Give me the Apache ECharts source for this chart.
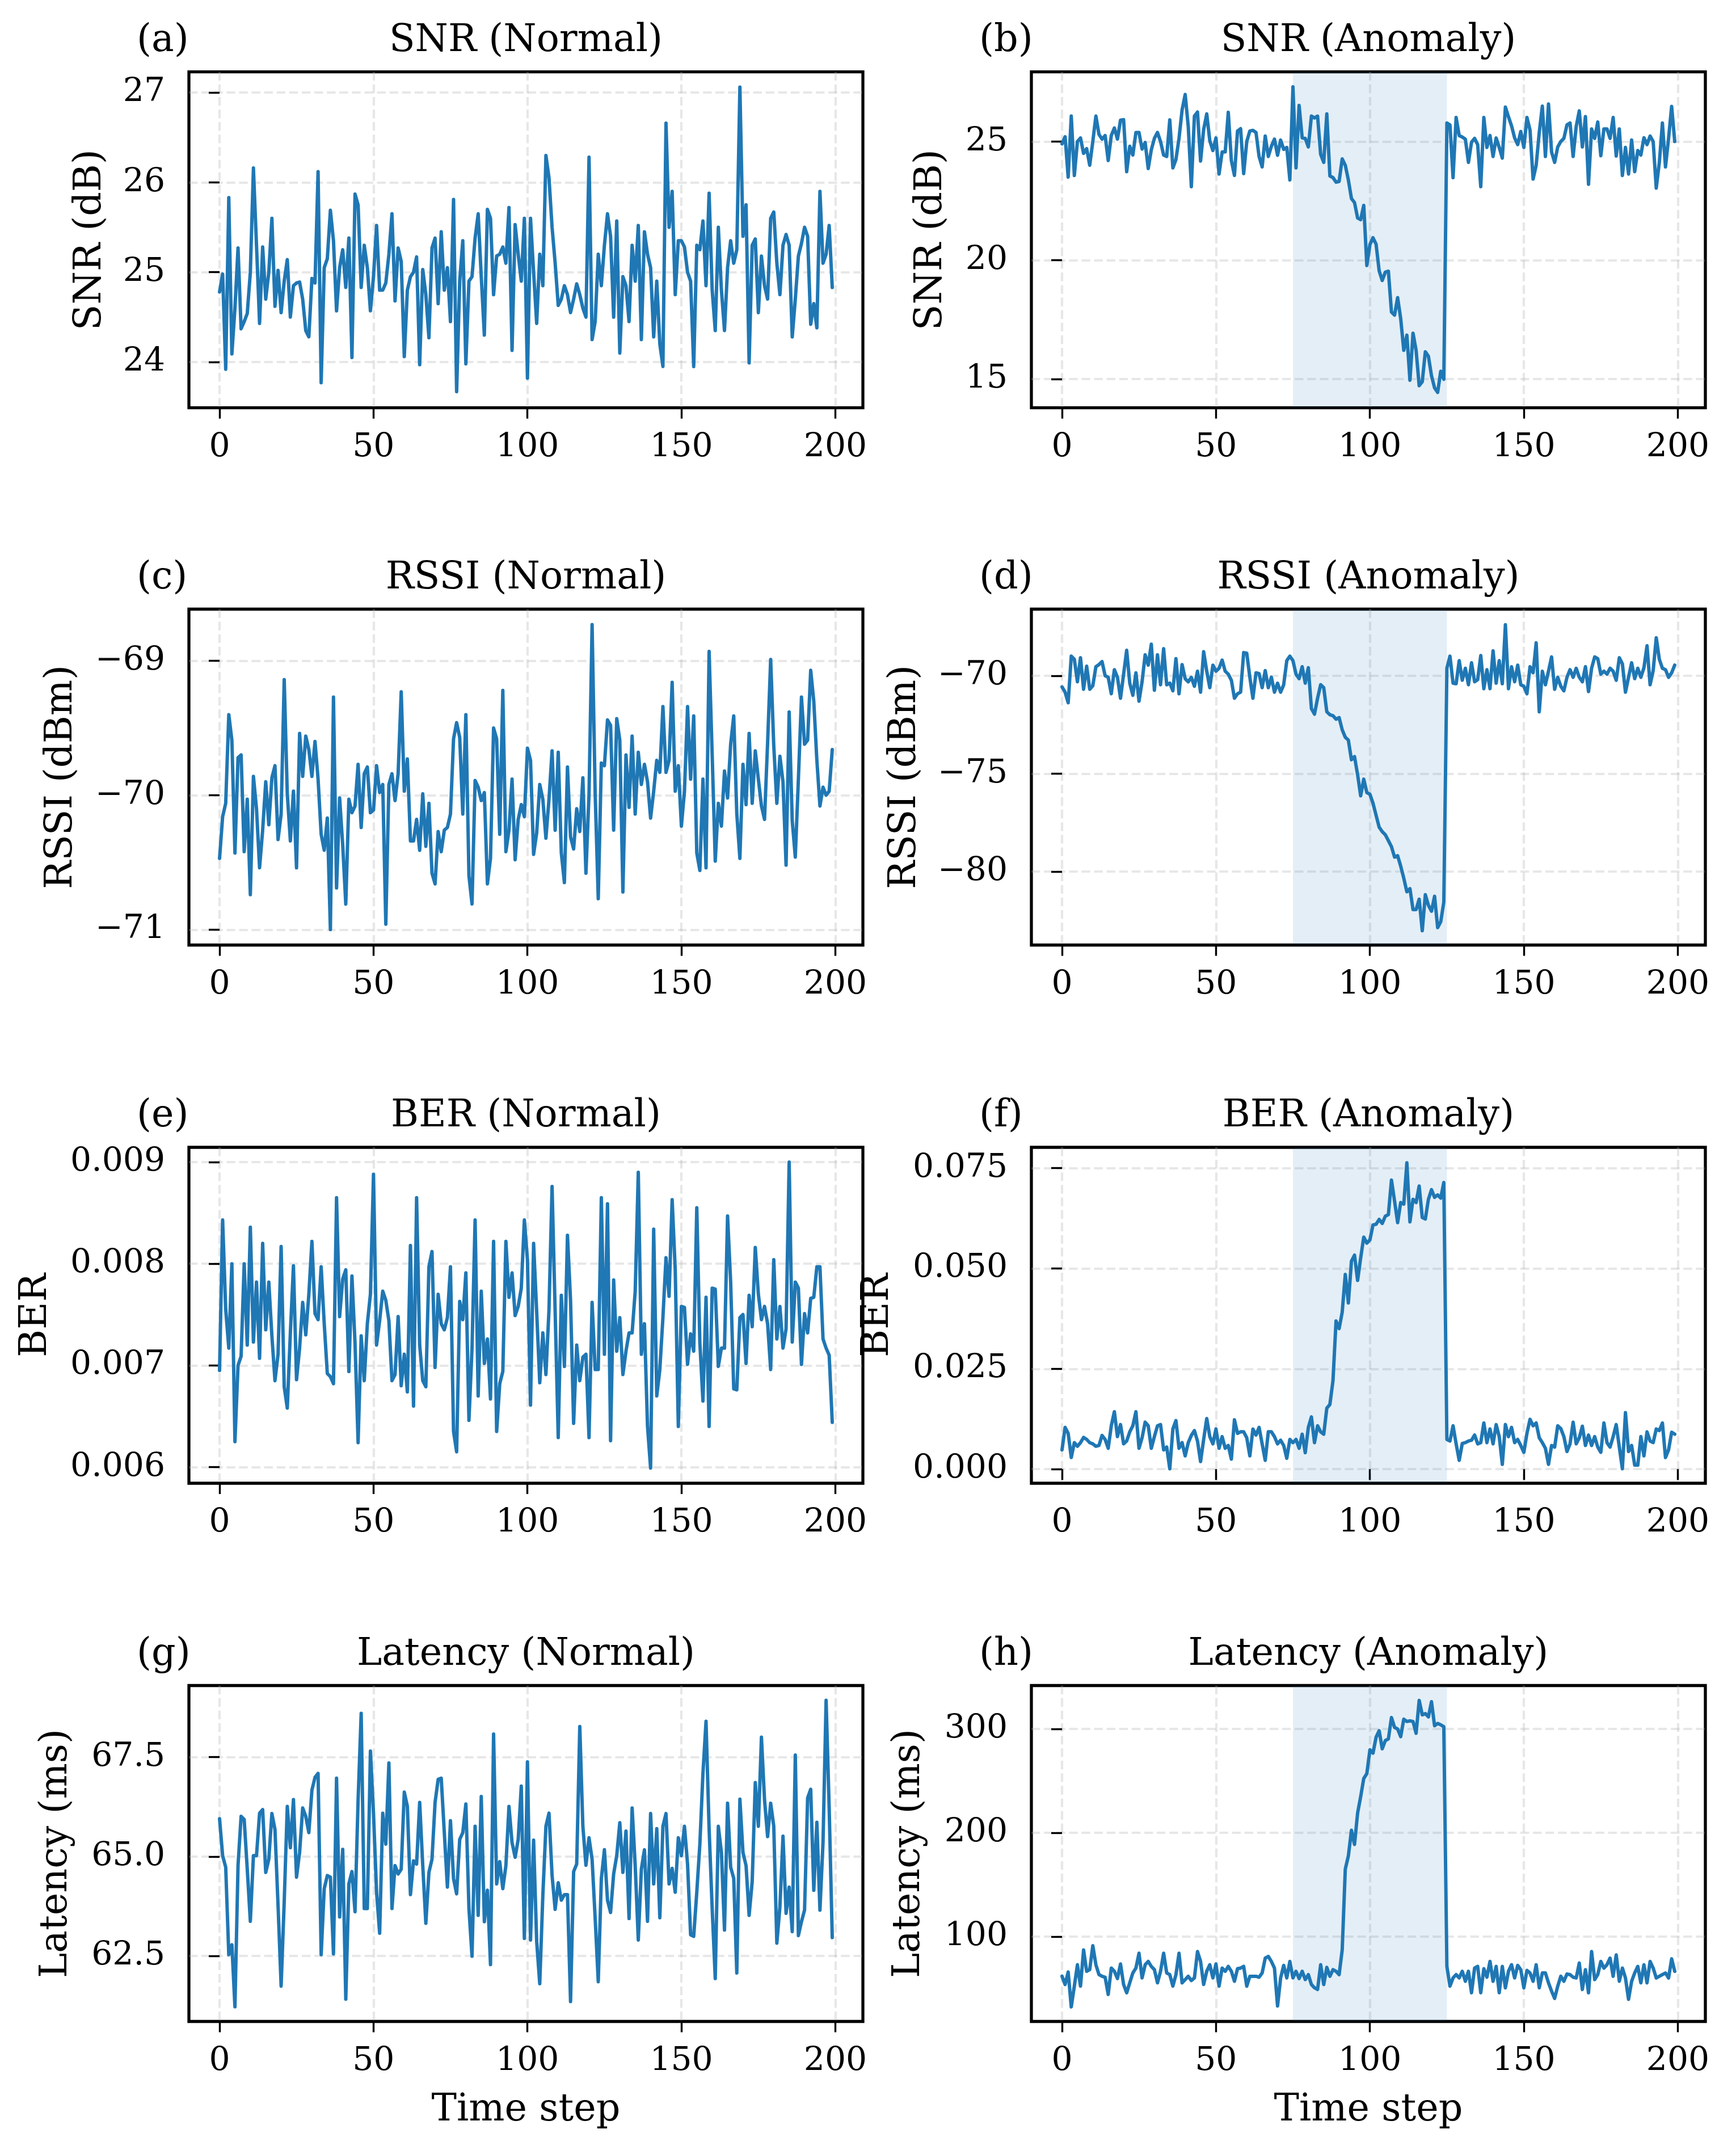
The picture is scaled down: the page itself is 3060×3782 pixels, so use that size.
<!DOCTYPE html>
<html><head><meta charset="utf-8">
<script src="https://cdn.jsdelivr.net/npm/echarts@6/dist/echarts.min.js"></script>
<style>html,body{margin:0;padding:0;background:#fff}#chart{width:3060px;height:3782px}</style>
</head><body><div id="chart"></div>
<script>
// ---------------- data ----------------
const timeSteps = Array.from({length: 200}, (_, i) => i);

const snrNormal = [
24.78,24.98,23.92,25.83,24.09,24.6,25.27,24.37,24.45,24.54,
25.0,26.16,25.3,24.43,25.28,24.7,25.0,25.6,24.62,25.02,
24.55,24.9,25.14,24.5,24.85,24.88,24.89,24.7,24.35,24.28,
24.93,24.88,26.12,23.77,25.05,25.15,25.69,25.35,24.57,25.05,
25.25,24.83,25.38,24.05,25.87,25.75,24.83,25.3,25.05,24.57,
24.95,25.52,24.8,24.8,24.88,25.2,25.65,24.68,25.27,25.12,
24.06,24.8,24.95,25.0,25.17,23.97,25.03,24.75,24.27,25.27,
25.38,24.65,25.45,24.8,25.05,24.45,25.81,23.67,24.9,25.35,
23.98,24.9,24.95,25.38,25.65,24.95,24.3,25.7,25.6,24.75,
25.18,25.2,25.28,25.1,25.72,24.13,25.53,25.2,24.9,25.6,
23.82,25.6,25.0,24.43,25.2,24.85,26.3,26.05,25.5,25.1,
24.63,24.7,24.85,24.75,24.55,24.7,24.87,24.75,24.6,24.5,
26.28,24.25,24.45,25.2,24.85,25.3,25.65,25.4,24.5,25.57,
24.1,24.95,24.85,24.45,25.3,24.9,25.52,24.25,25.45,25.2,
25.05,24.28,24.9,24.2,23.95,26.66,25.5,25.9,24.75,25.35,
25.35,25.28,25.0,24.9,23.95,25.3,25.25,25.57,24.85,25.88,
24.8,24.35,25.5,24.8,24.35,25.05,25.35,25.1,25.25,27.06,
25.4,25.75,23.99,25.3,25.37,24.55,25.18,24.85,24.7,25.6,
25.67,25.1,24.75,25.3,25.42,25.3,24.28,24.7,25.18,25.32,
25.5,25.4,24.42,24.65,24.38,25.9,25.1,25.2,25.52,24.83];

const snrAnomaly = [
24.9,25.2,23.5,26.07,23.57,25.0,25.15,24.5,24.7,24.0,
25.0,26.07,25.3,25.1,25.25,24.2,25.25,25.57,25.1,25.9,
25.92,23.73,24.8,24.43,25.38,25.38,24.68,24.96,23.86,24.65,
25.13,25.38,25.0,24.43,24.37,25.91,23.89,24.24,25.13,26.33,
26.98,25.63,23.1,26.07,26.24,24.18,25.5,26.16,25.03,24.62,
25.15,23.63,24.56,24.56,26.23,24.2,23.57,25.44,25.54,23.65,
25.0,25.44,25.47,25.38,24.37,23.93,25.23,24.37,24.8,25.1,
24.42,25.06,24.67,24.75,23.38,27.3,23.89,26.52,25.15,25.13,
24.77,26.07,25.99,26.07,24.46,24.12,26.16,23.55,23.48,23.29,
23.32,24.27,24.0,23.38,22.6,22.43,21.78,21.71,22.31,19.78,
20.66,20.95,20.68,19.56,19.15,19.5,19.54,17.82,17.69,18.43,
17.54,16.21,16.85,14.95,16.93,16.21,14.72,14.89,16.15,15.96,
15.14,14.63,14.44,15.33,14.99,25.78,25.7,23.48,26.01,25.25,
25.19,25.1,24.12,24.97,25.13,24.87,23.1,26.01,24.75,25.25,
24.37,25.15,24.75,24.3,26.45,26.04,25.66,25.15,24.87,25.42,
24.75,26.01,25.48,23.42,24.0,25.38,26.49,24.37,26.58,24.56,
24.12,24.77,25.0,25.13,25.7,25.78,24.37,25.63,26.29,24.77,
26.05,23.2,25.53,25.13,25.82,24.4,25.53,25.53,25.13,26.01,
24.39,25.53,23.57,24.75,23.63,25.06,23.73,24.62,24.43,25.16,
24.87,25.23,25.0,23.04,24.12,25.78,23.93,25.13,26.48,25.0];

const rssiNormal = [
-70.47,-70.16,-70.06,-69.40,-69.59,-70.43,-69.72,-69.70,-70.42,-70.03,
-70.74,-69.86,-70.10,-70.54,-70.26,-69.90,-70.22,-69.87,-69.78,-70.33,
-70.14,-69.14,-69.99,-70.34,-69.97,-70.54,-69.54,-69.86,-69.56,-69.66,
-69.86,-69.60,-69.88,-70.29,-70.41,-70.17,-71.0,-69.27,-70.69,-70.02,
-70.37,-70.81,-70.03,-70.13,-70.08,-69.77,-70.24,-69.84,-69.79,-70.13,
-70.11,-69.78,-69.98,-69.92,-70.96,-69.92,-69.84,-70.04,-69.84,-69.23,
-69.97,-69.73,-70.34,-70.34,-70.18,-70.41,-69.99,-70.38,-70.06,-70.58,
-70.66,-70.27,-70.42,-70.26,-70.24,-70.14,-69.58,-69.46,-69.57,-70.14,
-69.40,-70.60,-70.81,-69.89,-69.94,-70.04,-69.98,-70.66,-70.47,-69.50,
-69.58,-70.29,-69.22,-70.42,-70.26,-69.88,-70.48,-70.18,-70.07,-70.16,
-69.65,-69.74,-70.44,-70.28,-69.92,-70.03,-70.32,-70.03,-69.67,-70.26,
-69.68,-70.43,-70.65,-69.79,-70.31,-70.40,-70.10,-70.27,-69.87,-70.58,
-69.99,-68.73,-69.99,-70.77,-69.76,-69.78,-69.44,-69.48,-70.26,-69.43,
-69.59,-70.72,-69.70,-70.09,-69.56,-70.14,-69.68,-69.92,-69.77,-69.90,
-70.17,-69.97,-69.74,-69.83,-69.34,-69.83,-69.74,-69.16,-69.97,-69.78,
-70.23,-69.97,-69.34,-69.88,-69.41,-70.43,-70.56,-69.88,-70.54,-68.93,
-69.70,-70.49,-70.06,-70.23,-69.82,-70.02,-69.62,-69.41,-70.14,-70.47,
-69.77,-70.07,-69.54,-70.06,-69.67,-69.88,-70.08,-70.18,-69.61,-68.99,
-69.63,-70.06,-69.71,-69.90,-70.52,-69.38,-70.19,-70.46,-69.88,-69.27,
-69.62,-69.59,-69.07,-69.30,-69.74,-70.08,-69.94,-70.00,-69.97,-69.66];

const rssiAnomaly = [
-70.57,-70.84,-71.38,-69.0,-69.16,-70.31,-69.08,-70.69,-69.51,-70.69,
-70.51,-69.54,-69.43,-69.28,-70.0,-70.08,-70.92,-69.69,-70.08,-71.15,
-69.92,-68.70,-70.38,-71.0,-69.85,-71.30,-70.31,-68.93,-69.46,-68.39,
-70.74,-68.93,-70.46,-68.62,-70.46,-70.38,-70.77,-69.13,-70.92,-69.43,
-70.15,-70.31,-70.08,-70.54,-69.77,-70.84,-68.77,-69.77,-70.61,-69.46,
-69.77,-69.62,-69.20,-69.77,-69.92,-70.23,-71.15,-70.92,-70.84,-68.82,
-68.85,-70.08,-71.15,-69.85,-69.89,-70.61,-69.74,-70.61,-70.08,-70.84,
-70.38,-70.84,-70.46,-69.23,-69.0,-69.23,-69.92,-70.15,-69.54,-70.38,
-69.59,-71.68,-71.96,-71.15,-70.46,-70.61,-71.84,-71.99,-72.04,-72.22,
-72.14,-72.76,-73.14,-73.29,-74.29,-74.13,-75.05,-76.13,-75.28,-75.97,
-76.05,-76.51,-77.12,-77.73,-77.96,-78.12,-78.42,-78.73,-79.26,-79.19,
-79.72,-80.34,-81.03,-80.87,-81.94,-81.94,-81.41,-83.02,-81.18,-81.72,
-82.02,-81.26,-82.86,-82.56,-81.56,-69.62,-69.0,-70.38,-70.41,-69.23,
-70.23,-69.62,-70.46,-69.34,-70.31,-70.20,-68.97,-70.66,-69.69,-70.66,
-68.73,-70.38,-69.23,-70.41,-67.40,-70.66,-69.54,-70.31,-69.46,-70.46,
-70.54,-70.92,-69.54,-69.85,-68.32,-71.84,-69.77,-70.46,-69.77,-69.04,
-70.69,-70.08,-70.54,-70.77,-70.08,-69.69,-70.08,-69.62,-70.08,-70.31,
-69.54,-70.81,-69.62,-69.04,-69.13,-69.92,-69.77,-69.92,-69.62,-69.77,
-70.23,-69.08,-69.39,-70.84,-70.08,-69.34,-70.15,-69.62,-70.08,-69.59,
-68.47,-70.46,-69.74,-68.06,-69.16,-69.62,-69.69,-70.08,-69.85,-69.46];

const berNormal = [
0.00695,0.00843,0.00755,0.00717,0.00800,0.00625,0.00700,0.00709,0.00800,0.00720,
0.00836,0.00723,0.00782,0.00707,0.00820,0.00735,0.00782,0.00729,0.00685,0.00711,
0.00817,0.00679,0.00658,0.00732,0.00798,0.00686,0.00717,0.00762,0.00730,0.00770,
0.00822,0.00751,0.00745,0.00797,0.00741,0.00692,0.00689,0.00682,0.00865,0.00748,
0.00785,0.00794,0.00694,0.00788,0.00722,0.00624,0.00729,0.00685,0.00741,0.00770,
0.00888,0.00720,0.00744,0.00773,0.00764,0.00744,0.00685,0.00691,0.00748,0.00680,
0.00711,0.00674,0.00818,0.00660,0.00865,0.00720,0.00685,0.00679,0.00797,0.00812,
0.00698,0.00770,0.00741,0.00735,0.00747,0.00797,0.00635,0.00615,0.00763,0.00745,
0.00791,0.00646,0.00717,0.00843,0.00670,0.00773,0.00702,0.00726,0.00667,0.00822,
0.00635,0.00682,0.00694,0.00822,0.00767,0.00791,0.00749,0.00758,0.00776,0.00843,
0.00804,0.00661,0.00820,0.00753,0.00683,0.00732,0.00691,0.00755,0.00876,0.00753,
0.00629,0.00769,0.00699,0.00828,0.00764,0.00643,0.00720,0.00685,0.00708,0.00711,
0.00629,0.00762,0.00696,0.00696,0.00865,0.00711,0.00859,0.00626,0.00784,0.00714,
0.00747,0.00691,0.00714,0.00732,0.00732,0.00773,0.00890,0.00711,0.00741,0.00640,
0.00599,0.00834,0.00670,0.00696,0.00747,0.00806,0.00768,0.00863,0.00794,0.00640,
0.00758,0.00757,0.00701,0.00731,0.00714,0.00855,0.00722,0.00665,0.00767,0.00640,
0.00776,0.00775,0.00699,0.00717,0.00717,0.00847,0.00782,0.00677,0.00676,0.00747,
0.00750,0.00702,0.00769,0.00738,0.00816,0.00770,0.00745,0.00758,0.00741,0.00696,
0.00804,0.00726,0.00758,0.00717,0.00736,0.00900,0.00723,0.00782,0.00776,0.00701,
0.00751,0.00732,0.00766,0.00767,0.00797,0.00797,0.00726,0.00717,0.00710,0.00644];

const berAnomaly = [
0.0048,0.0104,0.0089,0.0029,0.0066,0.0057,0.0066,0.0079,0.0074,0.0066,
0.0063,0.0057,0.0059,0.0084,0.0074,0.0052,0.0108,0.0143,0.0081,0.0111,
0.0063,0.0070,0.0093,0.0108,0.0143,0.0052,0.0078,0.0117,0.0108,0.0052,
0.0081,0.0108,0.0111,0.0048,0.0055,0.0001,0.0100,0.0121,0.0052,0.0066,
0.0033,0.0066,0.0084,0.0096,0.0070,0.0019,0.0074,0.0126,0.0081,0.0063,
0.0100,0.0052,0.0081,0.0052,0.0059,0.0025,0.0123,0.0089,0.0093,0.0093,
0.0078,0.0033,0.0100,0.0085,0.0104,0.0063,0.0022,0.0093,0.0093,0.0081,
0.0063,0.0072,0.0059,0.0027,0.0074,0.0066,0.0074,0.0052,0.0087,0.0041,
0.0104,0.0130,0.0066,0.0108,0.0093,0.0087,0.0152,0.0161,0.0220,0.0369,
0.0350,0.0391,0.0485,0.0414,0.0518,0.0533,0.0470,0.0526,0.0578,0.0563,
0.0571,0.0608,0.0610,0.0622,0.0612,0.0630,0.0634,0.0720,0.0668,0.0614,
0.0664,0.0660,0.0763,0.0616,0.0672,0.0664,0.0705,0.0627,0.0623,0.0672,
0.0696,0.0677,0.0683,0.0675,0.0714,0.0074,0.0070,0.0108,0.0063,0.0022,
0.0064,0.0066,0.0070,0.0072,0.0085,0.0063,0.0066,0.0115,0.0066,0.0100,
0.0063,0.0111,0.0081,0.0012,0.0111,0.0081,0.0104,0.0066,0.0074,0.0059,
0.0042,0.0089,0.0124,0.0108,0.0115,0.0078,0.0066,0.0052,0.0012,0.0059,
0.0055,0.0108,0.0101,0.0081,0.0044,0.0063,0.0117,0.0063,0.0078,0.0107,
0.0059,0.0085,0.0059,0.0081,0.0055,0.0042,0.0115,0.0066,0.0055,0.0081,
0.0111,0.0055,0.0001,0.0141,0.0044,0.0059,0.0010,0.0010,0.0081,0.0033,
0.0093,0.0070,0.0066,0.0100,0.0096,0.0115,0.0029,0.0048,0.0092,0.0087];

const latencyNormal = [
65.95,65.02,64.73,62.53,62.78,61.22,64.77,66.01,65.93,64.68,
63.37,65.02,65.02,66.09,66.18,64.6,64.93,66.08,65.68,63.77,
61.74,63.86,66.26,65.22,66.43,64.48,65.1,66.22,66.01,65.6,
66.67,66.99,67.09,62.53,64.19,64.52,64.48,62.55,66.97,63.48,
65.18,61.41,64.31,64.62,63.61,66.43,68.6,63.69,63.69,67.65,
66.09,64.1,63.07,66.09,65.31,67.35,63.69,64.77,64.56,64.68,
66.62,66.26,64.04,64.89,64.81,66.36,64.77,63.32,64.6,64.93,
66.36,66.94,66.97,65.6,64.23,65.9,64.44,64.06,65.43,65.6,
66.32,63.69,62.49,65.76,63.52,66.51,63.36,64.15,62.28,68.08,
64.31,64.87,64.19,64.77,66.26,65.35,64.98,65.43,66.77,62.94,
67.38,62.9,65.41,62.86,61.8,64.02,65.76,66.09,64.52,63.67,
64.34,63.9,64.04,64.04,61.35,64.62,64.81,68.27,65.76,64.78,
65.47,64.93,63.44,61.85,64.44,65.17,63.9,63.59,64.56,65.02,
65.85,64.6,65.64,63.44,66.22,64.77,62.9,64.68,65.17,63.37,
66.08,64.31,65.7,63.46,65.76,66.08,64.31,64.7,64.1,65.47,
65.02,65.76,64.81,63.03,62.99,64.1,65.31,67.09,68.4,65.7,
63.69,61.93,65.76,65.1,63.15,66.34,64.73,64.45,62.07,66.44,
65.1,64.77,63.52,64.37,66.86,65.76,68.0,66.43,65.5,66.34,
65.76,62.82,63.73,65.51,63.57,64.23,63.11,67.55,63.01,63.36,
63.65,66.47,66.69,64.15,65.86,63.65,65.35,68.93,66.22,62.96];

const latencyAnomaly = [
61.9,54,66,32.4,52.4,73,52.4,87.3,66.7,68.3,
91.4,73,63.5,61.9,61,44.4,69.8,66.7,59.7,73.7,
54,46,55.6,65.1,69.8,84.1,60.3,73,76.2,71.4,
68.3,55.6,66.7,84.1,65.1,63.5,52.4,63.5,84.1,55.6,
58.7,61.9,57.8,60.3,85.7,76.2,54,66.7,73,60.3,
73.7,52.4,69.8,66.7,71.4,66.7,57.1,69.2,69.8,71.4,
52.4,61.9,61.9,61.9,61,65.1,79.4,81,76.2,69.8,
33.3,60.3,72.4,60.3,76.2,60.3,66.7,59.7,66.7,58.7,
63.5,54,50.8,49.2,73,54,70.5,61.9,68.3,66.7,
63.5,87.3,165.1,177.8,202.5,188.9,219,234.9,252.4,257.1,
280,276.8,292.1,298.4,281,288.9,290.5,311.1,301.6,300,
292.7,309.5,307.3,307.9,307.3,295.9,327.6,313.7,314.9,311.7,
326.3,303.2,305.4,304.1,302.2,71.4,52.4,60.3,63.5,60.3,
66.7,57.1,66.7,46,69.8,71.4,46,69.2,61,76.2,
57.1,71.4,46,71.4,50.8,66.7,73,60.3,72.4,68.3,
50.8,67.6,65.1,57.1,73,50.8,65.1,65.1,55.6,47.6,
40.6,52.4,61.9,57.1,64.1,63.5,61,60.3,74.6,49.2,
68.3,46,85.7,58.7,63.5,76.2,69.8,73,79.4,61.9,
82.5,57.1,69.8,60.3,39.7,57.1,65.1,71.4,55.6,73,
55.6,76.2,69.8,60.3,61.9,63.5,65.1,60.3,78.7,66.7];

const xTickValues = [0, 50, 100, 150, 200];
const anomalyWindow = [75, 125];

const panelTitles = ['SNR (Normal)','SNR (Anomaly)','RSSI (Normal)','RSSI (Anomaly)','BER (Normal)','BER (Anomaly)','Latency (Normal)','Latency (Anomaly)'];
const panelLetters = ['(a)','(b)','(c)','(d)','(e)','(f)','(g)','(h)'];
const yAxisNames = ['SNR (dB)','SNR (dB)','RSSI (dBm)','RSSI (dBm)','BER','BER','Latency (ms)','Latency (ms)'];
const yTickValues = [
  [24,25,26,27],[15,20,25],[-71,-70,-69],[-80,-75,-70],
  [0.006,0.007,0.008,0.009],[0,0.025,0.05,0.075],[62.5,65,67.5],[100,200,300]];
const yTickDecimals = [0,0,0,0,3,3,1,0];
const yRanges = [[23.49,27.23],[13.79,27.93],[-71.115,-68.615],[-83.75,-66.60],
  [0.005841,0.009145],[-0.00351,0.08015],[60.85,69.30],[18.4,341.9]];
const seriesValues = [snrNormal, snrAnomaly, rssiNormal, rssiAnomaly, berNormal, berAnomaly, latencyNormal, latencyAnomaly];
const isAnomaly = [false,true,false,true,false,true,false,true];

// ---------------- layout ----------------
const FONT = '"DejaVu Serif", serif';
const colLeft = [333, 1818];
const rowTop = [126.7, 1073.5, 2022, 2970.5];
const gridW = 1188, gridH = 592;
const yNameGaps = [140,143,191,189,236,237,200,182];
const LINE = '#1f77b4';

const grids = [], xAxes = [], yAxes = [], series = [], graphics = [];
const fmt = (v, d) => Number(v).toFixed(d).replace('-', '\u2212');

for (let p = 0; p < 8; p++) {
  const col = p % 2, row = Math.floor(p / 2);
  const left = colLeft[col], top = rowTop[row];
  grids.push({left: left, top: top, width: gridW, height: gridH, show: true,
    borderColor: '#000', borderWidth: 5.3, backgroundColor: 'transparent', containLabel: false});
  const splitLine = {show: true, lineStyle: {color: 'rgba(176,176,176,0.3)', width: 4.2, type: [15.4, 6.7]}};
  xAxes.push({
    type: 'value', gridIndex: p, min: -9.95, max: 208.95,
    axisLine: {show: false},
    axisTick: {show: true, length: 19, customValues: xTickValues, lineStyle: {color: '#000', width: 3.4}},
    axisLabel: {show: true, customValues: xTickValues, margin: 41, color: '#000', fontFamily: FONT, fontSize: 58.3,
      formatter: v => fmt(v, 0)},
    splitLine: splitLine,
    name: row === 3 ? 'Time step' : '', nameLocation: 'middle', nameGap: 124,
    nameTextStyle: {color: '#000', fontFamily: FONT, fontSize: 66.7}
  });
  const dec = yTickDecimals[p];
  yAxes.push({
    type: 'value', gridIndex: p, min: yRanges[p][0], max: yRanges[p][1],
    axisLine: {show: false},
    axisTick: {show: true, length: 19, customValues: yTickValues[p], lineStyle: {color: '#000', width: 3.4}},
    axisLabel: {show: true, customValues: yTickValues[p], margin: 42, color: '#000', fontFamily: FONT, fontSize: 58.3,
      formatter: v => fmt(v, dec)},
    splitLine: splitLine,
    name: yAxisNames[p], nameLocation: 'middle', nameRotate: 90, nameGap: yNameGaps[p],
    nameTextStyle: {color: '#000', fontFamily: FONT, fontSize: 66.7}
  });
  if (isAnomaly[p]) {
    series.push({
      type: 'line', xAxisIndex: p, yAxisIndex: p, data: [], z: 1, silent: true,
      markArea: {silent: true, itemStyle: {color: 'rgba(31,119,180,0.12)'},
        data: [[{xAxis: anomalyWindow[0]}, {xAxis: anomalyWindow[1]}]]}
    });
  }
  series.push({
    type: 'line', xAxisIndex: p, yAxisIndex: p, z: 3,
    data: timeSteps.map((t, k) => [t, seriesValues[p][k]]),
    showSymbol: false, symbol: 'none',
    lineStyle: {color: LINE, width: 6, join: 'round', cap: 'round'},
    itemStyle: {color: LINE}
  });
  graphics.push({type: 'text', z: 10,
    style: {text: panelTitles[p], x: left + gridW / 2, y: top - 54, font: '66.7px ' + FONT,
      fill: '#000', textAlign: 'center', textVerticalAlign: 'middle', align: 'center', verticalAlign: 'middle'}});
  graphics.push({type: 'text', z: 10,
    style: {text: panelLetters[p], x: left - 92, y: top - 54, font: '66.7px ' + FONT,
      fill: '#000', textAlign: 'left', textVerticalAlign: 'middle', align: 'left', verticalAlign: 'middle'}});
}

const chart = echarts.init(document.getElementById('chart'), null, {renderer: 'canvas', width: 3060, height: 3782});
chart.setOption({
  backgroundColor: '#fff', animation: false,
  grid: grids, xAxis: xAxes, yAxis: yAxes, series: series, graphic: graphics
});
</script></body></html>
